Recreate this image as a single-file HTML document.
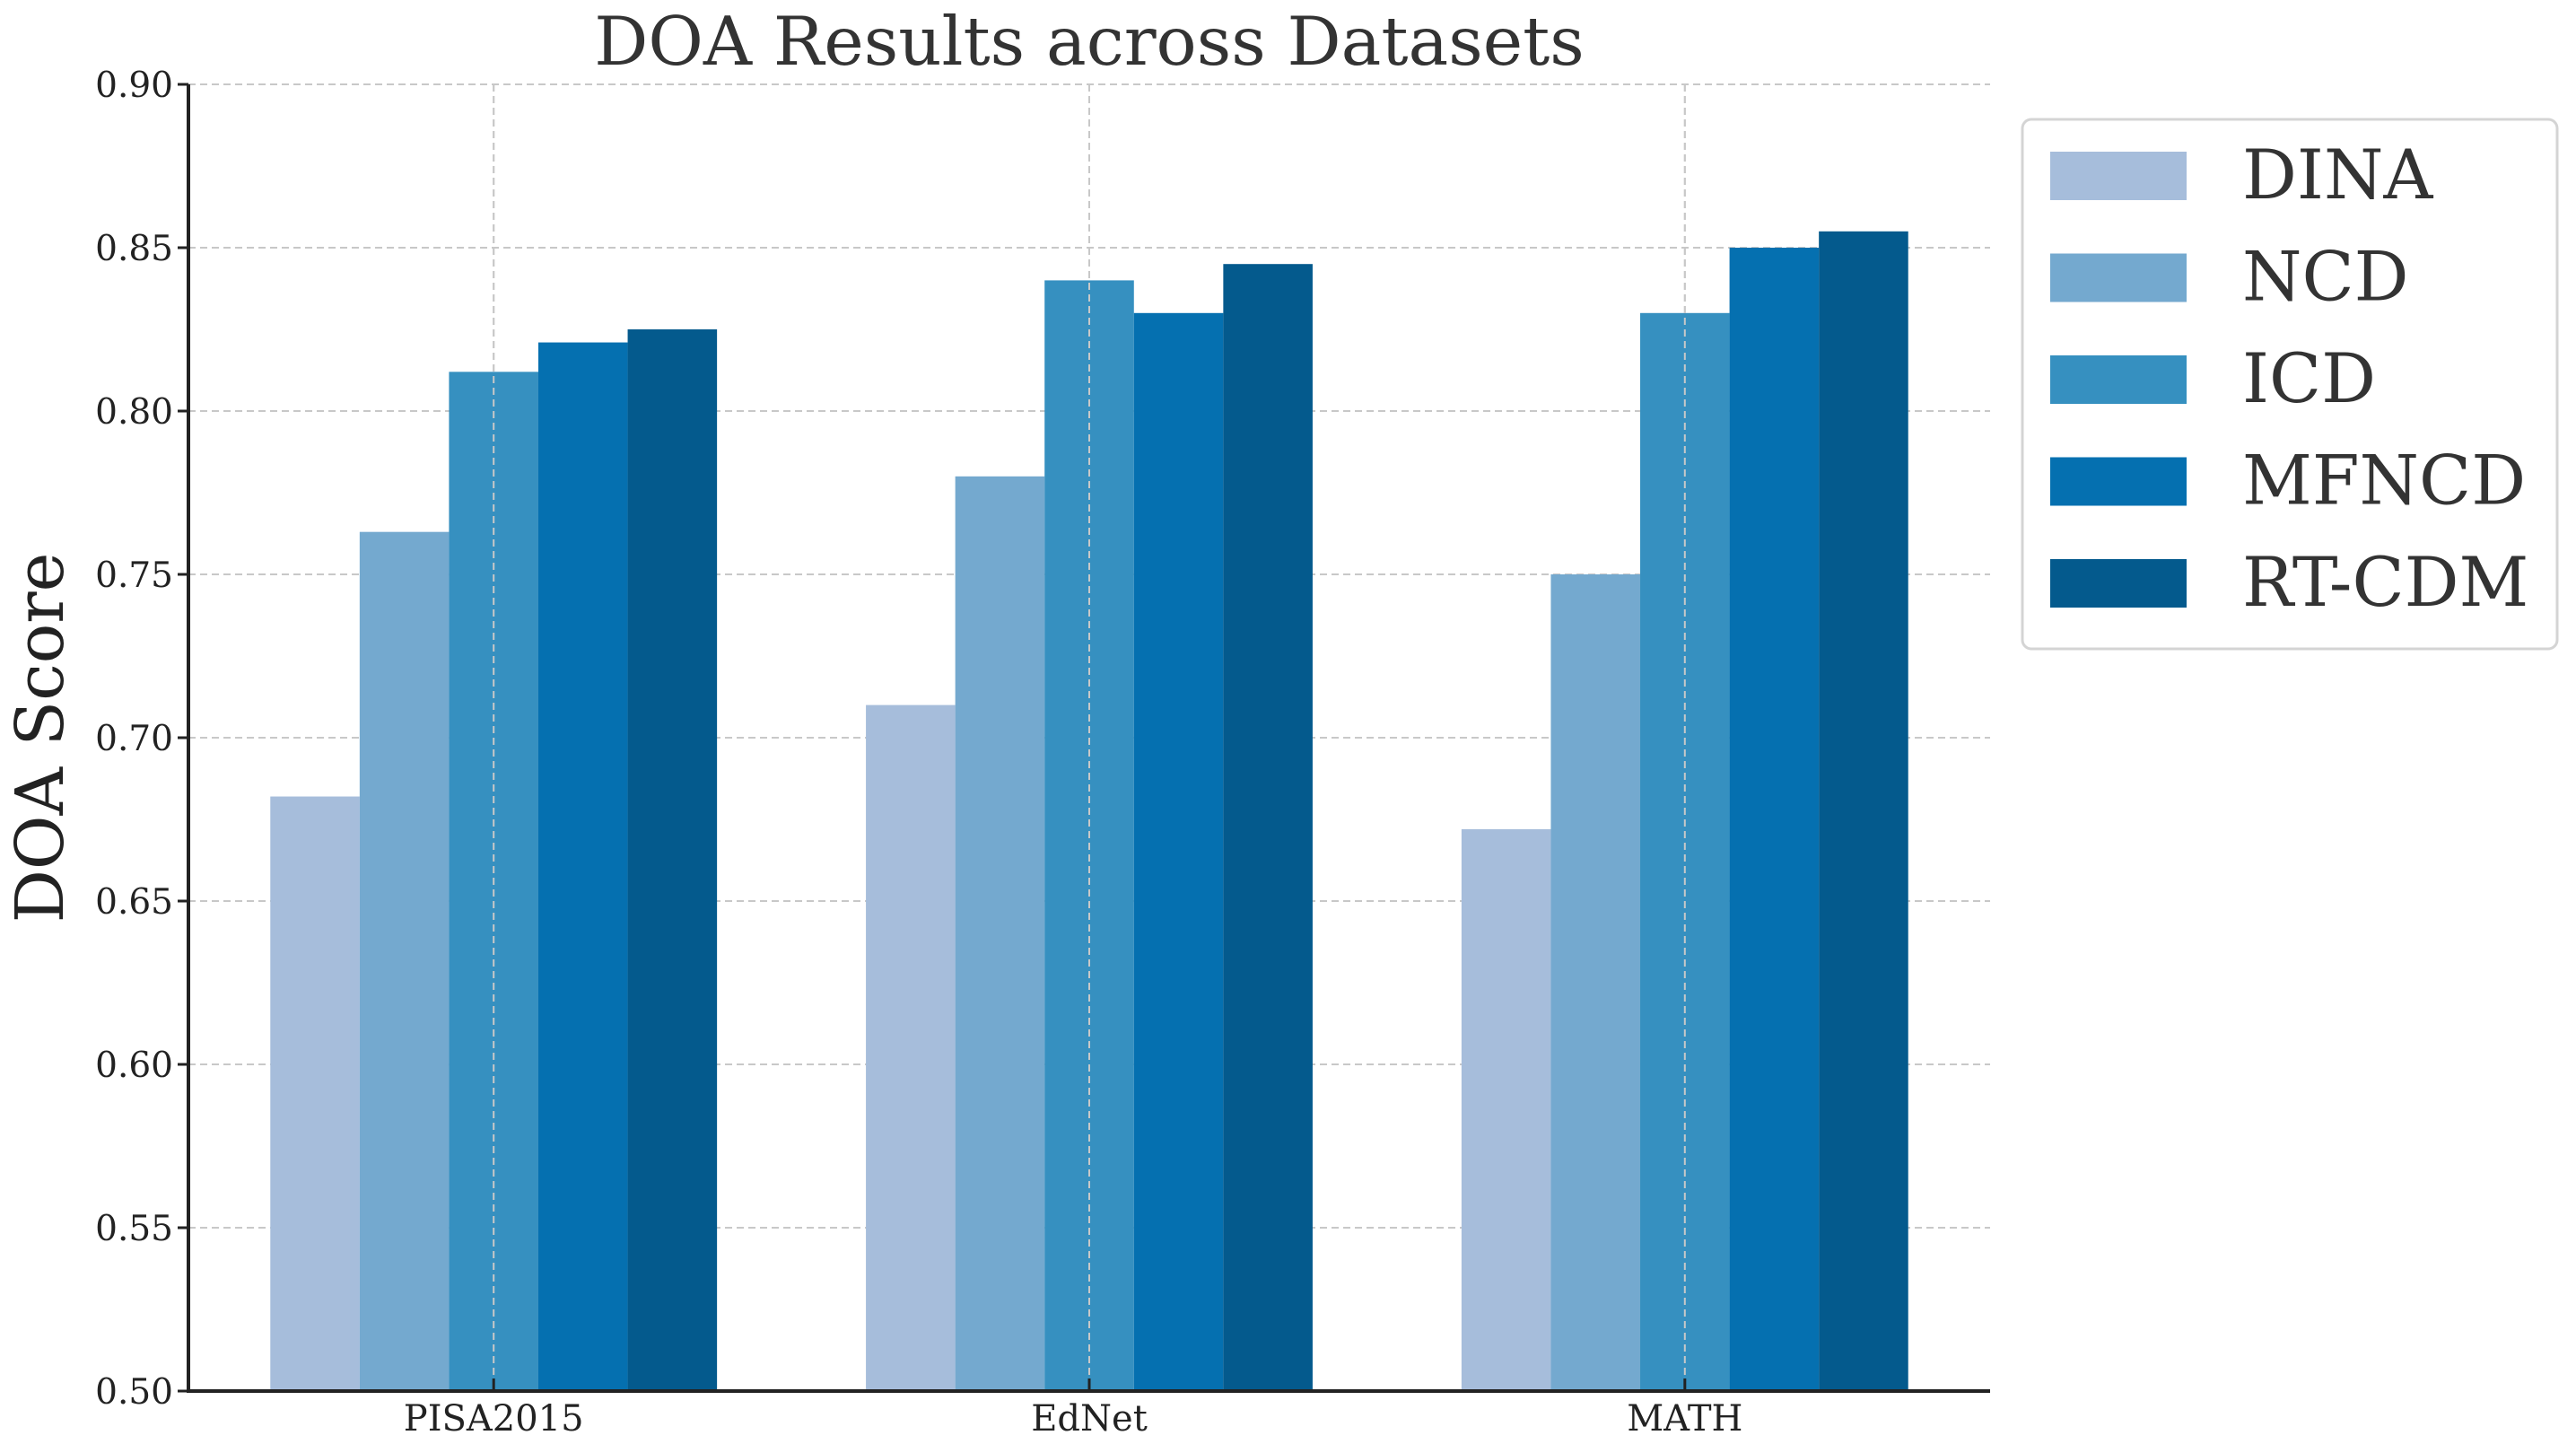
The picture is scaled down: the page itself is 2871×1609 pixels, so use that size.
<!DOCTYPE html>
<html><head><meta charset="utf-8"><style>
html,body{margin:0;padding:0;background:#fff;}
svg{display:block;font-family:"DejaVu Serif","Liberation Serif",serif;}
</style></head><body>
<svg id="chart" width="2871" height="1609" xmlns="http://www.w3.org/2000/svg">
<text x="1214" y="72" font-size="75" text-anchor="middle" fill="#333">DOA Results across Datasets</text>
<text transform="translate(70,822) rotate(-90)" font-size="74" text-anchor="middle" fill="#222">DOA Score</text>
<g id="grid"></g><g id="bars"></g><g id="axes"></g><g id="legend"></g>
</svg>
<script>
const categories = ["PISA2015","EdNet","MATH"];
const seriesNames = ["DINA","NCD","ICD","MFNCD","RT-CDM"];
const dina = [0.682,0.710,0.672];
const ncd = [0.763,0.780,0.750];
const icd = [0.812,0.840,0.830];
const mfncd = [0.821,0.830,0.850];
const rtcdm = [0.825,0.845,0.855];
const yTicks = [0.50,0.55,0.60,0.65,0.70,0.75,0.80,0.85,0.90];
const colors = ["#a6bddb","#74a9cf","#3690c0","#0570b0","#045a8d"];
const series = [dina,ncd,icd,mfncd,rtcdm];
const NS="http://www.w3.org/2000/svg";
const X0=210,X1=2218,Y0=1550,Y1=94,yMin=0.5,yMax=0.9;
const barW=0.15;
const cMin=-2*barW-barW/2, cMax=categories.length-1+2*barW+barW/2;
const pad=(cMax-cMin)*0.05;
function xs(c){return X0+(c-(cMin-pad))/((cMax+pad)-(cMin-pad))*(X1-X0);}
function ys(v){return Y0-(v-yMin)/(yMax-yMin)*(Y0-Y1);}
function mk(tag,attrs,parent){const e=document.createElementNS(NS,tag);for(const k in attrs)e.setAttribute(k,attrs[k]);parent.appendChild(e);return e;}
const grid=document.getElementById('grid'),bars=document.getElementById('bars'),axes=document.getElementById('axes'),legend=document.getElementById('legend');
yTicks.forEach((t,i)=>{
  const y=ys(t);
  const g=mk('line',{x1:X0,x2:X1,y1:y,y2:y,stroke:"#c8c8c8","stroke-width":2,"stroke-dasharray":"8,5"},grid);
  
  
  const tk=mk('line',{x1:X0-12,x2:X0,y1:y,y2:y,stroke:"#222","stroke-width":3},axes);
  
  
  const lb=mk('text',{x:X0-17,y:y+14,"font-size":39,"text-anchor":"end",fill:"#222"},axes);
  lb.textContent=t.toFixed(2);
  
  
});
categories.forEach((c,i)=>{
  const x=xs(i);
  const g=mk('line',{x1:x,x2:x,y1:Y1,y2:Y0,stroke:"#c8c8c8","stroke-width":2,"stroke-dasharray":"8,5"},grid);
  
  
});
series.forEach((vals,s)=>{
  vals.forEach((v,i)=>{
    const c=i+(s-2)*barW;
    const xl=xs(c-barW/2),xr=xs(c+barW/2);
    const r=mk('rect',{x:xl,y:ys(v),width:xr-xl,height:Y0-ys(v),fill:colors[s]},bars);
    
    
  });
});
categories.forEach((c,i)=>{
  const x=xs(i);
  const g=mk('line',{x1:x,x2:x,y1:Y1,y2:Y0,stroke:"#c8c8c8","stroke-width":2,"stroke-dasharray":"8,5"},bars);
  
  
  const tk=mk('line',{x1:x,x2:x,y1:Y0-14,y2:Y0,stroke:"#222","stroke-width":3},axes);
  
  
  const lb=mk('text',{x:x,y:Y0+44,"font-size":40,"text-anchor":"middle",fill:"#222"},axes);
  lb.textContent=c;
  
  
});
const sl=mk('line',{x1:X0,x2:X0,y1:Y1,y2:Y0+2,stroke:"#222","stroke-width":4},axes);


const sb=mk('line',{x1:X0-2,x2:X1,y1:Y0,y2:Y0,stroke:"#222","stroke-width":4},axes);


const box=mk('rect',{x:2254,y:133,width:596,height:590,rx:10,fill:"#fff",stroke:"#d4d4d4","stroke-width":3},legend);


seriesNames.forEach((n,i)=>{
  const y=169+i*113.5;
  const sw=mk('rect',{x:2285,y:y,width:152,height:54,fill:colors[i]},legend);
  
  
  const t=mk('text',{x:2499,y:y+52,"font-size":76,fill:"#333"},legend);
  t.textContent=n;
  
  
});
</script>
</body></html>
